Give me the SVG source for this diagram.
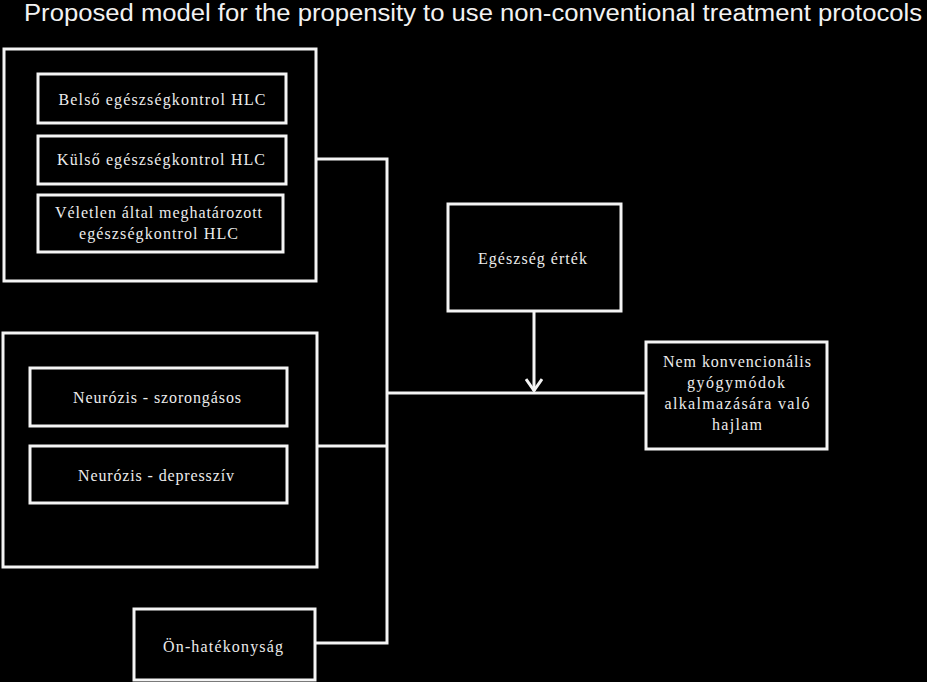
<svg xmlns="http://www.w3.org/2000/svg" width="927" height="682" viewBox="0 0 927 682">
<defs>
<style>
.bx{fill:#000;stroke:#f4f4f4;stroke-width:3}
.ln{fill:none;stroke:#f4f4f4;stroke-width:3}
.t{font-family:"Liberation Serif","DejaVu Serif","Times New Roman",serif;font-size:16px;fill:#ececec;text-anchor:middle}
.title{font-family:"Liberation Sans",Arial,sans-serif;font-size:23px;fill:#f2f2f2}
</style>
<marker id="ah" viewBox="0 0 14 18" refX="13" refY="9" markerWidth="14" markerHeight="18" markerUnits="userSpaceOnUse" orient="auto">
<path d="M1,1 L12.5,9 L1,17" fill="none" stroke="#f4f4f4" stroke-width="3"/>
</marker>
</defs>
<rect width="927" height="682" fill="#000"/>
<text class="title" x="24" y="21" textLength="898" lengthAdjust="spacingAndGlyphs">Proposed model for the propensity to use non-conventional treatment protocols</text>
<g id="connectors">
<polyline class="ln" points="316,159 387,159 387,643 315,643"/>
<line class="ln" x1="317" y1="446" x2="387" y2="446"/>
<line class="ln" x1="387" y1="393" x2="646" y2="393"/>
<line class="ln" x1="534" y1="311" x2="534" y2="391" marker-end="url(#ah)"/>
</g>
<g id="hlc-group">
<rect class="bx" x="4" y="49" width="312" height="232"/>
</g>
<g id="belso">
<rect class="bx" x="38" y="74" width="248" height="49"/>
<text class="t" x="162" y="105" textLength="207" lengthAdjust="spacing">Belső egészségkontrol HLC</text>
</g>
<g id="kulso">
<rect class="bx" x="38" y="136" width="248" height="48"/>
<text class="t" x="161" y="165" textLength="208" lengthAdjust="spacing">Külső egészségkontrol HLC</text>
</g>
<g id="veletlen">
<rect class="bx" x="38" y="195" width="245" height="57"/>
<text class="t" x="158.5" y="218" textLength="207" lengthAdjust="spacing">Véletlen által meghatározott</text>
<text class="t" x="158.5" y="239" textLength="159" lengthAdjust="spacing">egészségkontrol HLC</text>
</g>
<g id="neurozis-group">
<rect class="bx" x="3" y="333" width="314" height="234"/>
</g>
<g id="szorongasos">
<rect class="bx" x="30" y="368" width="257" height="58"/>
<text class="t" x="157" y="403" textLength="168" lengthAdjust="spacing">Neurózis - szorongásos</text>
</g>
<g id="depressziv">
<rect class="bx" x="30" y="446" width="257" height="57"/>
<text class="t" x="156" y="481" textLength="156" lengthAdjust="spacing">Neurózis - depresszív</text>
</g>
<g id="onhatekonysag">
<rect class="bx" x="134" y="609" width="181" height="71"/>
<text class="t" x="223" y="652" textLength="120" lengthAdjust="spacing">Ön-hatékonyság</text>
</g>
<g id="egeszseg-ertek">
<rect class="bx" x="448" y="204" width="173" height="107"/>
<text class="t" x="532.5" y="264" textLength="109" lengthAdjust="spacing">Egészség érték</text>
</g>
<g id="nem-konvencionalis">
<rect class="bx" x="646" y="342" width="181" height="107"/>
<text class="t" x="737" y="367" textLength="148" lengthAdjust="spacing">Nem konvencionális</text>
<text class="t" x="736" y="388" textLength="98" lengthAdjust="spacing">gyógymódok</text>
<text class="t" x="737" y="409" textLength="145" lengthAdjust="spacing">alkalmazására való</text>
<text class="t" x="737" y="430" textLength="50" lengthAdjust="spacing">hajlam</text>
</g>
</svg>
